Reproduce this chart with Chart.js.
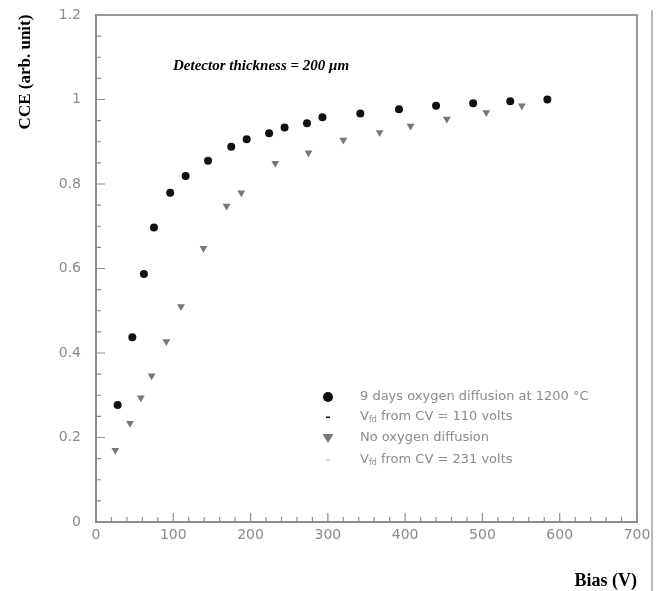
<!DOCTYPE html>
<html>
<head>
<meta charset="utf-8">
<script src="https://cdn.jsdelivr.net/npm/chart.js@4.4.1/dist/chart.umd.min.js"></script>
<style>
  html, body { margin: 0; padding: 0; background: #fff; }
  #wrap { width: 665px; height: 591px; }
</style>
</head>
<body>
<div id="wrap"><canvas id="myChart" width="665" height="591"></canvas></div>
<script>
/* ---- Datos ---- */
// 9 days oxygen diffusion at 1200 °C
const oxyBias = [28, 47, 62, 75, 96, 116, 145, 175, 195, 224, 244, 273, 293, 342, 392, 440, 488, 536, 584];
const oxyCCE  = [0.277, 0.437, 0.587, 0.697, 0.779, 0.819, 0.855, 0.888, 0.906, 0.920, 0.934, 0.944, 0.958, 0.967, 0.977, 0.985, 0.991, 0.996, 1.000];

// No oxygen diffusion
const noOxyBias = [25, 44, 58, 72, 91, 110, 139, 169, 188, 232, 275, 320, 367, 407, 454, 505, 551];
const noOxyCCE  = [0.170, 0.234, 0.294, 0.346, 0.427, 0.510, 0.648, 0.748, 0.779, 0.849, 0.874, 0.904, 0.922, 0.937, 0.954, 0.969, 0.985];

const xTicks = [0, 100, 200, 300, 400, 500, 600, 700];
const yTicks = [0, 0.2, 0.4, 0.6, 0.8, 1, 1.2];
const xMinorStep = 20;
const yMinorStep = 0.05;

const legendLabels = [
  "9 days oxygen diffusion at 1200 °C",
  "V_fd from CV = 110 volts",
  "No oxygen diffusion",
  "V_fd from CV = 231 volts",
];
const annotationText = "Detector thickness = 200 μm";
const yTitle = "CCE (arb. unit)";
const xTitle = "Bias (V)";

const toPoints = (xs, ys) => xs.map((x, i) => ({ x, y: ys[i] }));

/* ---- Colores ---- */
const AXIS_GRAY = "#8c8c8c";
const TEXT_GRAY = "#8a8a8a";
const TRI_GRAY  = "#777777";

/* ---- Plugin: marco, ticks interiores, textos y leyenda ---- */
const decor = {
  id: "decor",
  afterDatasetsDraw(chart) {
    const { ctx, chartArea: a, scales: { x, y } } = chart;
    ctx.save();

    // marco superior y derecho
    ctx.strokeStyle = "#9a9a9a";
    ctx.lineWidth = 2;
    ctx.beginPath();
    ctx.moveTo(a.left, a.top);
    ctx.lineTo(a.right, a.top);
    ctx.lineTo(a.right, a.bottom);
    ctx.stroke();

    // línea vertical extra a la derecha
    ctx.strokeStyle = "#a0a0a0";
    ctx.lineWidth = 1.5;
    ctx.beginPath();
    ctx.moveTo(a.right + 15, 10);
    ctx.lineTo(a.right + 15, chart.height);
    ctx.stroke();

    // ticks hacia adentro
    ctx.strokeStyle = AXIS_GRAY;
    ctx.lineWidth = 1.2;
    ctx.beginPath();
    for (let v = 0; v <= 700 + 1e-6; v += xMinorStep) {
      const px = x.getPixelForValue(v);
      const len = v % 100 === 0 ? 9 : 5;
      ctx.moveTo(px, a.bottom);
      ctx.lineTo(px, a.bottom - len);
    }
    for (let i = 0; i <= 24; i++) {
      const v = i * yMinorStep;
      const py = y.getPixelForValue(v);
      const len = i % 4 === 0 ? 9 : 5;
      ctx.moveTo(a.left, py);
      ctx.lineTo(a.left + len, py);
    }
    ctx.stroke();
    ctx.restore();
  },
  afterDraw(chart) {
    const { ctx, chartArea: a } = chart;
    ctx.save();

    // título eje Y
    ctx.fillStyle = "#000";
    ctx.font = "bold 17px 'Liberation Serif', serif";
    ctx.textAlign = "center";
    ctx.textBaseline = "middle";
    ctx.translate(26, 72);
    ctx.rotate(-Math.PI / 2);
    ctx.fillText(yTitle, 0, 0);
    ctx.setTransform(1, 0, 0, 1, 0, 0);

    // título eje X
    ctx.font = "bold 18px 'Liberation Serif', serif";
    ctx.textAlign = "right";
    ctx.textBaseline = "alphabetic";
    ctx.fillText(xTitle, a.right, 586);

    // anotación
    ctx.font = "italic bold 15px 'Liberation Serif', serif";
    ctx.textAlign = "left";
    ctx.fillText(annotationText, 173, 70);

    // leyenda
    const rows = [397, 417, 438, 460];
    const mx = 328, tx = 360;
    // marcadores
    ctx.fillStyle = "#111";
    ctx.beginPath(); ctx.arc(mx, rows[0], 5, 0, Math.PI * 2); ctx.fill();
    ctx.fillRect(mx - 2, rows[1] - 0.5, 4, 1.5);
    ctx.fillStyle = TRI_GRAY;
    ctx.beginPath();
    ctx.moveTo(mx - 5.5, rows[2] - 4);
    ctx.lineTo(mx + 5.5, rows[2] - 4);
    ctx.lineTo(mx, rows[2] + 5);
    ctx.closePath(); ctx.fill();
    ctx.fillStyle = "#c8c8c8";
    ctx.fillRect(mx - 2, rows[3] - 0.5, 4, 1.5);

    // textos
    ctx.fillStyle = TEXT_GRAY;
    ctx.textBaseline = "middle";
    legendLabels.forEach((lab, i) => {
      const yy = rows[i];
      if (lab.startsWith("V_fd")) {
        ctx.font = "13px 'DejaVu Sans', sans-serif";
        ctx.fillText("V", tx, yy);
        let w = ctx.measureText("V").width;
        ctx.font = "8px 'DejaVu Sans', sans-serif";
        ctx.fillText("fd", tx + w, yy + 3);
        w += ctx.measureText("fd").width;
        ctx.font = "13px 'DejaVu Sans', sans-serif";
        ctx.fillText(lab.slice(4), tx + w, yy);
      } else {
        ctx.font = "13px 'DejaVu Sans', sans-serif";
        ctx.fillText(lab, tx, yy);
      }
    });
    ctx.restore();
  },
};

/* ---- Gráfico ---- */
const tickFont = { family: "'DejaVu Sans', sans-serif", size: 14 };

new Chart(document.getElementById("myChart").getContext("2d"), {
  type: "scatter",
  data: {
    datasets: [
      {
        label: legendLabels[0],
        data: toPoints(oxyBias, oxyCCE),
        pointStyle: "circle",
        pointRadius: 4,
        backgroundColor: "#111",
        borderColor: "#111",
        borderWidth: 0,
      },
      {
        label: legendLabels[2],
        data: toPoints(noOxyBias, noOxyCCE),
        pointStyle: "triangle",
        rotation: 180,
        pointRadius: 4.5,
        backgroundColor: TRI_GRAY,
        borderColor: TRI_GRAY,
        borderWidth: 0,
      },
    ],
  },
  options: {
    responsive: false,
    animation: false,
    layout: { padding: { left: 0, top: 15, right: 28, bottom: 0 } },
    plugins: { legend: { display: false }, tooltip: { enabled: false } },
    scales: {
      x: {
        type: "linear",
        min: 0,
        max: 700,
        afterBuildTicks: s => { s.ticks = xTicks.map(v => ({ value: v })); },
        afterFit: s => { s.height = 69; s.paddingLeft = 0; s.paddingRight = 0; },
        grid: { display: false, drawTicks: false },
        border: { color: AXIS_GRAY, width: 2 },
        ticks: { padding: 5, color: TEXT_GRAY, font: tickFont, maxRotation: 0, autoSkip: false },
      },
      y: {
        type: "linear",
        min: 0,
        max: 1.2,
        afterBuildTicks: s => { s.ticks = yTicks.map(v => ({ value: v })); },
        afterFit: s => { s.width = 96; s.paddingTop = 0; s.paddingBottom = 0; },
        grid: { display: false, drawTicks: false },
        border: { color: AXIS_GRAY, width: 2 },
        ticks: { padding: 15, color: TEXT_GRAY, font: tickFont, autoSkip: false, callback: v => String(v) },
      },
    },
  },
  plugins: [decor],
});
</script>
</body>
</html>
